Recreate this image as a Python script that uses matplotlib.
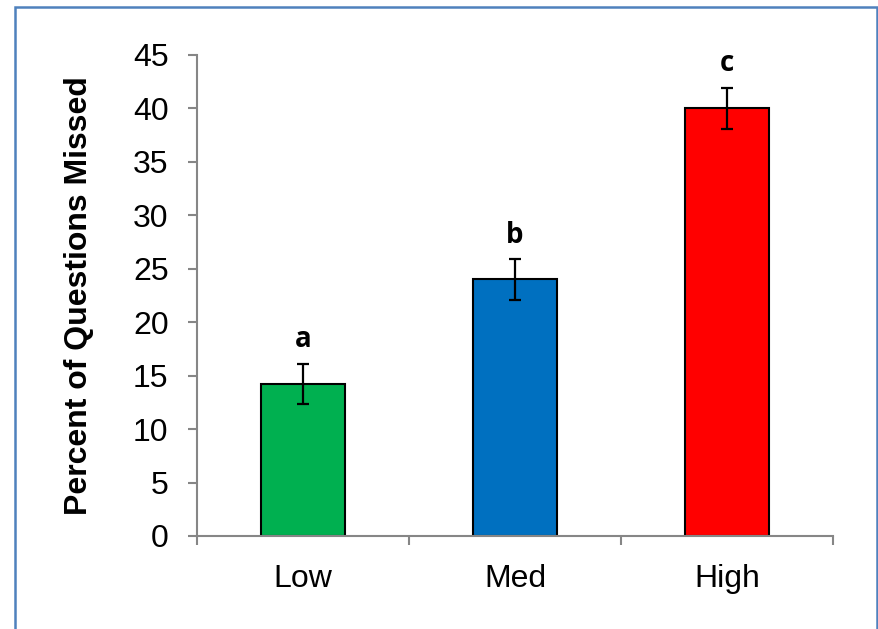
import matplotlib.pyplot as plt
from matplotlib.patches import Rectangle

plt.rcParams['font.family'] = ['Liberation Sans', 'DejaVu Sans']

# Data
groups = ['Low', 'Med', 'High']
pct_missed = [14.2, 24.0, 40.0]
err = [1.9, 1.9, 1.9]
letters = ['a', 'b', 'c']
colors = ['#00b050', '#0070c0', '#ff0000']

fig = plt.figure(figsize=(8.79, 6.29), dpi=100)
ax = fig.add_axes([0.2241, 0.1479, 0.7236, 0.7647])

x = range(len(groups))
ax.bar(x, pct_missed, width=0.4, color=colors, edgecolor='black', linewidth=1.5, zorder=2)
ax.errorbar(x, pct_missed, yerr=err, fmt='none', ecolor='black',
            elinewidth=1.6, capsize=4.5, capthick=1.6, zorder=3)

for xi, v, e, lab in zip(x, pct_missed, err, letters):
    ax.text(xi, v + e + 0.9, lab, ha='center', va='bottom',
            fontsize=20, fontweight='bold', family=['Open Sans', 'DejaVu Sans'])

ax.set_xlim(-0.5, 2.5)
ax.set_ylim(0, 45)
ax.set_yticks(range(0, 46, 5))
ax.set_xticks(list(x))
ax.set_xticklabels(groups)
ax.set_xticks([-0.5, 0.5, 1.5, 2.5], minor=True)

spine_col = '#868686'
for s in ['top', 'right']:
    ax.spines[s].set_visible(False)
for s in ['left', 'bottom']:
    ax.spines[s].set_color(spine_col)
    ax.spines[s].set_linewidth(1.5)

ax.tick_params(axis='y', direction='out', length=6.5, width=1.5, color=spine_col,
               labelsize=23, pad=14)
ax.tick_params(axis='x', which='major', length=0, labelsize=23, pad=20)
ax.tick_params(axis='x', which='minor', direction='out', length=6.5, width=1.5,
               color=spine_col)

ax.set_ylabel('Percent of Questions Missed', fontsize=23, fontweight='bold', labelpad=28)

# Chart frame
fig.patches.append(Rectangle((15 / 879, -0.05), (877 - 15) / 879, 1.05 - 7 / 629,
                             transform=fig.transFigure, fill=False,
                             edgecolor='#4f81bd', linewidth=1.8))

fig.savefig('out.png', dpi=100)
